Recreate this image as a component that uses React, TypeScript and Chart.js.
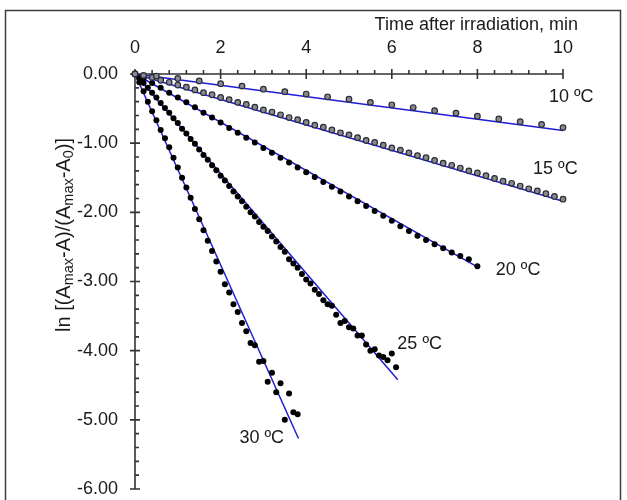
import React, { useEffect, useRef } from "react";
import { Chart, registerables } from "chart.js";
Chart.register(...registerables);

// ---- data ----
const t10 = [0, 0.5, 1, 1.5, 2, 2.5, 3, 3.5, 4, 4.5, 5, 5.5, 6, 6.5, 7, 7.5, 8, 8.5, 9, 9.5, 10];
const v10 = [0, -0.03, -0.065, -0.1, -0.14, -0.175, -0.22, -0.255, -0.29, -0.33, -0.365, -0.41, -0.445, -0.485, -0.53, -0.565, -0.61, -0.65, -0.69, -0.73, -0.775];

const t15 = [0, 0.2, 0.4, 0.6, 0.8, 1, 1.2, 1.4, 1.6, 1.8, 2, 2.2, 2.4, 2.6, 2.8, 3, 3.2, 3.4, 3.6, 3.8, 4, 4.2, 4.4, 4.6, 4.8, 5, 5.2, 5.4, 5.6, 5.8, 6, 6.2, 6.4, 6.6, 6.8, 7, 7.2, 7.4, 7.6, 7.8, 8, 8.2, 8.4, 8.6, 8.8, 9, 9.2, 9.4, 9.6, 9.8, 10];
const v15 = [0, -0.02, -0.05, -0.09, -0.12, -0.16, -0.19, -0.23, -0.27, -0.3, -0.34, -0.37, -0.41, -0.44, -0.48, -0.52, -0.55, -0.59, -0.63, -0.66, -0.7, -0.74, -0.77, -0.81, -0.85, -0.88, -0.92, -0.96, -0.99, -1.03, -1.07, -1.1, -1.14, -1.18, -1.21, -1.25, -1.29, -1.32, -1.36, -1.4, -1.43, -1.47, -1.51, -1.55, -1.58, -1.62, -1.66, -1.69, -1.73, -1.77, -1.81];

const t20 = [0, 0.2, 0.4, 0.6, 0.8, 1, 1.2, 1.4, 1.6, 1.8, 2, 2.2, 2.4, 2.6, 2.8, 3, 3.2, 3.4, 3.6, 3.8, 4, 4.2, 4.4, 4.6, 4.8, 5, 5.2, 5.4, 5.6, 5.8, 6, 6.2, 6.4, 6.6, 6.8, 7, 7.2, 7.4, 7.6, 7.8, 8];
const v20 = [0, -0.06, -0.13, -0.2, -0.27, -0.34, -0.41, -0.48, -0.56, -0.63, -0.7, -0.78, -0.85, -0.92, -0.99, -1.07, -1.14, -1.21, -1.28, -1.35, -1.42, -1.49, -1.56, -1.63, -1.7, -1.77, -1.84, -1.91, -1.98, -2.05, -2.12, -2.2, -2.27, -2.34, -2.4, -2.46, -2.52, -2.58, -2.63, -2.68, -2.78];

const t25 = [0, 0.1, 0.2, 0.3, 0.4, 0.5, 0.6, 0.7, 0.8, 0.9, 1, 1.1, 1.2, 1.3, 1.4, 1.5, 1.6, 1.7, 1.8, 1.9, 2, 2.1, 2.2, 2.3, 2.4, 2.5, 2.6, 2.7, 2.8, 2.9, 3, 3.1, 3.2, 3.3, 3.4, 3.5, 3.6, 3.7, 3.8, 3.9, 4, 4.1, 4.2, 4.3, 4.4, 4.5, 4.6, 4.7, 4.8, 4.9, 5, 5.1, 5.2, 5.3, 5.4, 5.5, 5.6, 5.7, 5.8, 5.9, 6, 6.1];
const v25 = [0, -0.06, -0.13, -0.2, -0.27, -0.34, -0.42, -0.49, -0.56, -0.64, -0.71, -0.79, -0.86, -0.94, -1.01, -1.09, -1.17, -1.24, -1.32, -1.39, -1.47, -1.54, -1.62, -1.7, -1.77, -1.84, -1.92, -2.0, -2.06, -2.14, -2.21, -2.27, -2.35, -2.42, -2.5, -2.57, -2.68, -2.74, -2.8, -2.89, -2.97, -3.03, -3.12, -3.18, -3.27, -3.33, -3.35, -3.48, -3.6, -3.57, -3.66, -3.68, -3.78, -3.78, -3.91, -4.0, -3.98, -4.07, -4.09, -4.14, -4.04, -4.24];

const t30 = [0, 0.1, 0.2, 0.3, 0.4, 0.5, 0.6, 0.7, 0.8, 0.9, 1, 1.1, 1.2, 1.3, 1.4, 1.5, 1.6, 1.7, 1.8, 1.9, 2, 2.1, 2.2, 2.3, 2.4, 2.5, 2.6, 2.7, 2.8, 2.9, 3, 3.1, 3.2, 3.3, 3.4, 3.5, 3.6, 3.7, 3.8];
const v30 = [0, -0.12, -0.25, -0.4, -0.54, -0.67, -0.81, -0.93, -1.06, -1.21, -1.35, -1.5, -1.64, -1.79, -1.95, -2.1, -2.26, -2.41, -2.56, -2.71, -2.86, -3.04, -3.16, -3.33, -3.44, -3.6, -3.72, -3.89, -3.92, -4.16, -4.15, -4.45, -4.32, -4.6, -4.47, -5.0, -4.62, -4.89, -4.92];

// linear fits: from origin to these end points
const fitEndX = [10, 10, 8.03, 6.14, 3.82];
const fitEndY = [-0.818, -1.84, -2.8, -4.42, -5.27];

const seriesNames = ["10 ºC", "15 ºC", "20 ºC", "25 ºC", "30 ºC"];
// label anchors in data units (left edge, vertical middle)
const labelX = [9.67, 9.3, 8.43, 6.13, 2.44];
const labelY = [-0.33, -1.38, -2.83, -3.9, -5.27];

const xTitle = "Time after irradiation, min";
const yTitleParts: [string, boolean][] = [
  ["ln [(A", false], ["max", true], ["-A)/(A", false], ["max", true], ["-A", false], ["0", true], [")]", false],
];

const FONT = "'Liberation Sans', Arial, sans-serif";

const toPts = (xs: number[], ys: number[]) => xs.map((x, i) => ({ x, y: ys[i] }));

const decorPlugin = {
  id: "decor",
  beforeDraw(chart: any) {
    const ctx = chart.ctx;
    ctx.save();
    ctx.strokeStyle = "#3c3c3c";
    ctx.lineWidth = 1.5;
    ctx.strokeRect(5.5, 10.5, 615, 520);
    ctx.restore();
  },
  beforeDatasetsDraw(chart: any) {
    const { ctx, scales } = chart;
    const x = scales.x, y = scales.y;
    const y0 = y.getPixelForValue(0);
    const x0 = x.getPixelForValue(0);
    ctx.save();
    ctx.strokeStyle = "#333";
    ctx.lineWidth = 1.6;
    ctx.beginPath();
    ctx.moveTo(x0, y0);
    ctx.lineTo(x.getPixelForValue(10), y0);
    ctx.moveTo(x0, y0);
    ctx.lineTo(x0, y.getPixelForValue(-6));
    for (let i = 0; i <= 25; i++) {
      const px = x.getPixelForValue(i * 0.4);
      if (i % 5 === 0) { ctx.moveTo(px, y0 - 5); ctx.lineTo(px, y0 + 5); }
      else { ctx.moveTo(px, y0); ctx.lineTo(px, y0 - 4); }
    }
    for (let i = 0; i <= 30; i++) {
      const py = y.getPixelForValue(-i * 0.2);
      if (i % 5 === 0) { ctx.moveTo(x0 - 5, py); ctx.lineTo(x0 + 5, py); }
      else { ctx.moveTo(x0, py); ctx.lineTo(x0 + 4, py); }
    }
    ctx.stroke();
    ctx.restore();
  },
  afterDraw(chart: any) {
    const { ctx, scales, chartArea } = chart;
    const x = scales.x, y = scales.y;
    ctx.save();
    ctx.fillStyle = "#1a1a1a";
    ctx.font = `18px ${FONT}`;
    ctx.textBaseline = "middle";
    ctx.textAlign = "left";
    seriesNames.forEach((n, i) => {
      ctx.fillText(n, x.getPixelForValue(labelX[i]), y.getPixelForValue(labelY[i]));
    });
    // x title
    ctx.textAlign = "right";
    ctx.fillText(xTitle, chartArea.right + 15, 25);
    // y title rotated
    const big = `20px ${FONT}`, small = `14.5px ${FONT}`;
    let total = 0;
    yTitleParts.forEach(([t, s]) => { ctx.font = s ? small : big; total += ctx.measureText(t).width; });
    ctx.translate(63, 235);
    ctx.rotate(-Math.PI / 2);
    ctx.textAlign = "left";
    ctx.textBaseline = "alphabetic";
    let cx = -total / 2;
    yTitleParts.forEach(([t, s]) => {
      ctx.font = s ? small : big;
      ctx.fillText(t, cx, s ? 10 : 7);
      cx += ctx.measureText(t).width;
    });
    ctx.restore();
  },
};

export default function App() {
  const ref = useRef<HTMLCanvasElement | null>(null);
  useEffect(() => {
    document.body.style.margin = "0";
    const canvas = ref.current!;
    const blue = "#1e1ed8";
    const hollow = { backgroundColor: "#8a8a8e", borderColor: "#2a2a38", pointRadius: 2.8, pointBorderWidth: 1.2 };
    const solid = { backgroundColor: "#000", borderColor: "#000", pointRadius: 3, pointBorderWidth: 0 };
    const ts = [t10, t15, t20, t25, t30];
    const vs = [v10, v15, v20, v25, v30];
    const pointSets = ts.map((t, i) => ({
      label: seriesNames[i],
      data: toPts(t, vs[i]),
      showLine: false,
      clip: false,
      ...(i < 2 ? hollow : solid),
    }));
    const lineSets = fitEndX.map((ex, i) => ({
      label: "fit " + seriesNames[i],
      data: [{ x: 0, y: 0 }, { x: ex, y: fitEndY[i] }],
      showLine: true,
      borderColor: blue,
      borderWidth: 1.5,
      pointRadius: 0,
      clip: false,
    }));
    const chart = new Chart(canvas, {
      type: "scatter",
      data: { datasets: [...pointSets, ...lineSets] as any },
      options: {
        responsive: false,
        animation: false,
        layout: { padding: { top: 0, left: 0, right: 64, bottom: 11 } },
        plugins: { legend: { display: false }, tooltip: { enabled: false } },
        scales: {
          x: {
            type: "linear",
            position: "top",
            min: 0,
            max: 10,
            grid: { display: false, drawTicks: false },
            border: { display: false },
            ticks: { stepSize: 2, padding: 15, color: "#1a1a1a", font: { size: 18, family: FONT } },
            afterFit: (s: any) => { s.height = 74; s.paddingLeft = 0; s.paddingRight = 0; },
          },
          y: {
            type: "linear",
            min: -6,
            max: 0,
            grid: { display: false, drawTicks: false },
            border: { display: false },
            ticks: {
              stepSize: 1,
              padding: 17,
              color: "#1a1a1a",
              font: { size: 18, family: FONT },
              callback: (v: any) => Number(v).toFixed(2),
            },
            afterFit: (s: any) => { s.width = 135; s.paddingTop = 0; s.paddingBottom = 0; },
          },
        },
      } as any,
      plugins: [decorPlugin],
    });
    return () => chart.destroy();
  }, []);
  return (
    <div style={{ width: 627, height: 500, background: "#fff" }}>
      <canvas ref={ref} width={627} height={500} />
    </div>
  );
}
